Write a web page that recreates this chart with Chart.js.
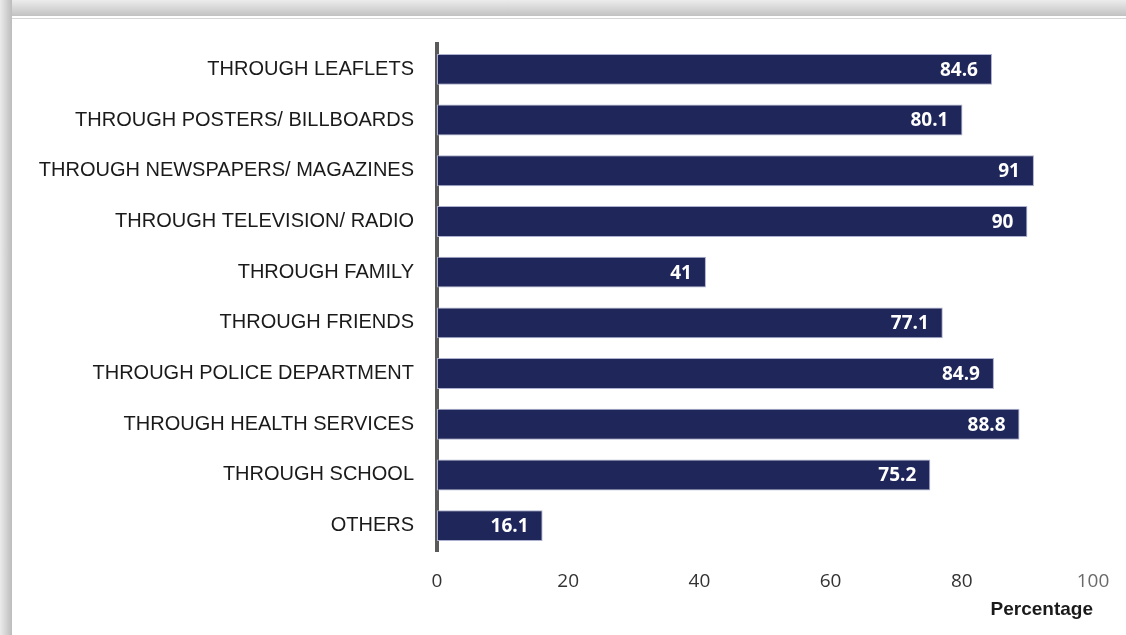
<!DOCTYPE html>
<html>
<head>
<meta charset="utf-8">
<script src="https://cdn.jsdelivr.net/npm/chart.js@4"></script>
<style>
  body { margin: 0; width: 1126px; height: 635px; overflow: hidden; background: #fff; position: relative; }
  #topband { position: absolute; left: 0; top: 0; width: 1126px; height: 16px; background: linear-gradient(to bottom, #ececec, #c2c2c2); }
  #leftband { position: absolute; left: 0; top: 0; width: 12px; height: 635px; background: linear-gradient(to right, #ebebeb, #bcbcbc); }
  #topline { position: absolute; left: 12px; top: 18px; width: 1114px; height: 1px; background: #d6d6d6; }
  #card { position: absolute; left: 12px; top: 16px; width: 1114px; height: 619px; }
</style>
</head>
<body>
<div id="topband"></div>
<div id="leftband"></div>
<div id="topline"></div>
<div id="card"><canvas id="chart" width="1114" height="619"></canvas></div>
<script>
// categories and values
var labels = [
  "THROUGH LEAFLETS",
  "THROUGH POSTERS/ BILLBOARDS",
  "THROUGH NEWSPAPERS/ MAGAZINES",
  "THROUGH TELEVISION/ RADIO",
  "THROUGH FAMILY",
  "THROUGH FRIENDS",
  "THROUGH POLICE DEPARTMENT",
  "THROUGH HEALTH SERVICES",
  "THROUGH SCHOOL",
  "OTHERS",
];
var values = [84.6, 80.1, 91, 90, 41, 77.1, 84.9, 88.8, 75.2, 16.1];
var xTicks = [0, 20, 40, 60, 80, 100];

// white value labels at the end of each bar
var barLabels = {
  id: "barLabels",
  afterDatasetsDraw: function (chart) {
    var ctx = chart.ctx;
    var meta = chart.getDatasetMeta(0);
    ctx.save();
    ctx.fillStyle = "#ffffff";
    ctx.font = "bold 19px 'Open Sans'";
    ctx.textAlign = "right";
    ctx.textBaseline = "middle";
    meta.data.forEach(function (bar, i) {
      ctx.fillText(String(values[i]), bar.x - 14, bar.y + 1);
    });
    ctx.restore();
  },
};

var chart = new Chart(document.getElementById("chart").getContext("2d"), {
  type: "bar",
  data: {
    labels: labels,
    datasets: [
      {
        data: values,
        backgroundColor: "#1f2659",
        borderColor: "#adb0cf",
        borderWidth: 1,
        borderSkipped: false,
        barPercentage: 0.61,
        categoryPercentage: 1,
      },
    ],
  },
  options: {
    indexAxis: "y",
    responsive: false,
    animation: false,
    layout: { padding: { top: 28, right: 33, bottom: 14, left: 0 } },
    plugins: { legend: { display: false }, tooltip: { enabled: false } },
    scales: {
      y: {
        grid: { display: false, drawTicks: false },
        border: { display: true, color: "#5a5a5a", width: 4 },
        ticks: {
          color: "#1a1a1a",
          padding: 23,
          font: { family: "'Liberation Sans', Arial", size: 20 },
        },
        afterFit: function (scale) {
          scale.width = 425;
          scale.paddingTop = 0;
          scale.paddingBottom = 0;
        },
      },
      x: {
        min: 0,
        max: 100,
        grid: { display: false, drawTicks: false },
        border: { display: false },
        afterBuildTicks: function (scale) {
          scale.ticks = xTicks.map(function (v) { return { value: v }; });
        },
        afterFit: function (scale) {
          scale.height = 70;
          scale.paddingLeft = 0;
          scale.paddingRight = 0;
        },
        ticks: {
          padding: 19,
          color: function (c) { return c.tick && c.tick.value === 100 ? "#6a6a6a" : "#333333"; },
          font: { family: "'Open Sans'", size: 19 },
        },
        title: {
          display: true,
          text: "Percentage",
          align: "end",
          color: "#1a1a1a",
          padding: { top: 0, bottom: 0 },
          font: { family: "'Liberation Sans', Arial", size: 19, weight: "bold" },
        },
      },
    },
  },
  plugins: [barLabels],
});
</script>
</body>
</html>
